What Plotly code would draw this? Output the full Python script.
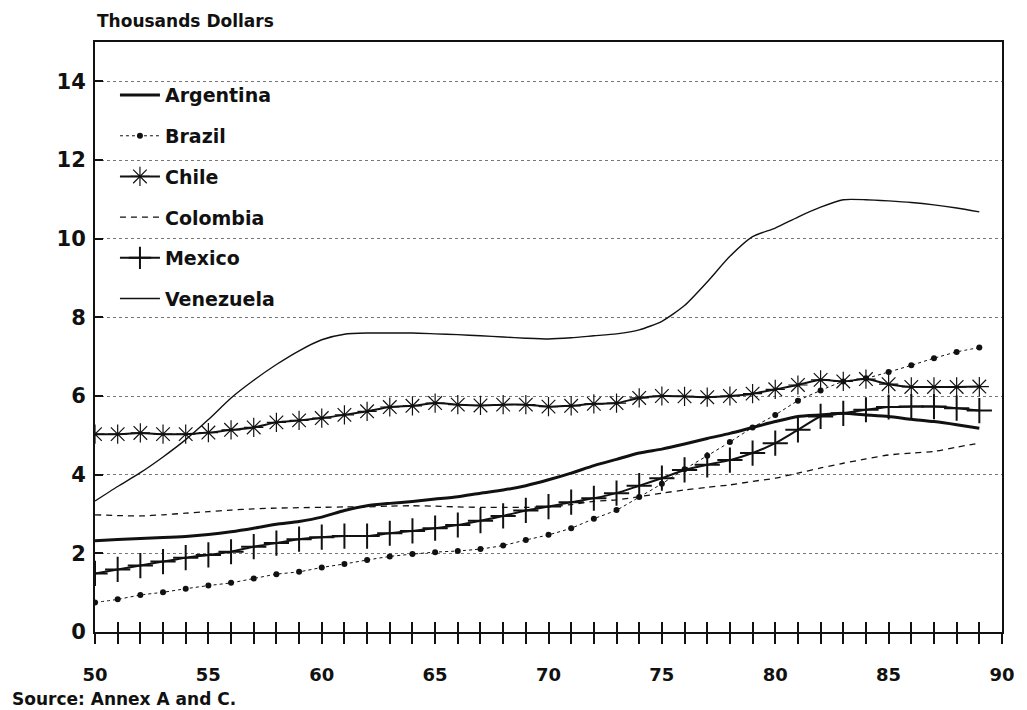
import plotly.graph_objects as go

years = list(range(50, 90))

argentina = [2.32, 2.35, 2.38, 2.40, 2.43, 2.48, 2.55, 2.64, 2.74, 2.81,
             2.92, 3.09, 3.21, 3.27, 3.32, 3.38, 3.44, 3.53, 3.61, 3.72,
             3.87, 4.04, 4.23, 4.39, 4.55, 4.65, 4.78, 4.92, 5.05, 5.20,
             5.35, 5.48, 5.52, 5.56, 5.52, 5.48, 5.41, 5.35, 5.27, 5.18]

brazil = [0.75, 0.83, 0.94, 1.01, 1.10, 1.18, 1.25, 1.36, 1.47, 1.53,
          1.64, 1.73, 1.83, 1.92, 1.98, 2.03, 2.06, 2.11, 2.20, 2.34,
          2.47, 2.64, 2.88, 3.10, 3.43, 3.77, 4.14, 4.48, 4.83, 5.20,
          5.52, 5.88, 6.14, 6.37, 6.45, 6.61, 6.78, 6.96, 7.12, 7.23]

chile = [5.03, 5.03, 5.06, 5.03, 5.03, 5.07, 5.14, 5.20, 5.33, 5.38,
         5.44, 5.52, 5.61, 5.72, 5.75, 5.82, 5.78, 5.76, 5.78, 5.78,
         5.73, 5.75, 5.80, 5.82, 5.95, 6.00, 5.99, 5.97, 6.00, 6.06,
         6.17, 6.28, 6.41, 6.37, 6.43, 6.30, 6.23, 6.23, 6.23, 6.24]

colombia = [2.98, 2.96, 2.95, 2.98, 3.02, 3.06, 3.10, 3.13, 3.15, 3.16,
            3.17, 3.18, 3.18, 3.20, 3.21, 3.20, 3.18, 3.17, 3.17, 3.17,
            3.18, 3.24, 3.32, 3.36, 3.44, 3.53, 3.61, 3.68, 3.74, 3.83,
            3.91, 4.04, 4.17, 4.29, 4.40, 4.50, 4.55, 4.59, 4.70, 4.80]

mexico = [1.49, 1.59, 1.69, 1.79, 1.89, 1.96, 2.04, 2.17, 2.26, 2.36,
          2.41, 2.44, 2.44, 2.51, 2.57, 2.64, 2.72, 2.83, 2.95, 3.09,
          3.19, 3.30, 3.40, 3.53, 3.72, 3.91, 4.12, 4.25, 4.37, 4.55,
          4.80, 5.14, 5.48, 5.56, 5.65, 5.72, 5.73, 5.73, 5.69, 5.63]

venezuela = [3.33, 3.70, 4.05, 4.45, 4.89, 5.40, 5.95, 6.40, 6.80, 7.15,
             7.43, 7.57, 7.60, 7.60, 7.60, 7.58, 7.56, 7.53, 7.50, 7.47,
             7.45, 7.48, 7.53, 7.58, 7.68, 7.90, 8.30, 8.90, 9.55, 10.05,
             10.27, 10.55, 10.80, 10.99, 10.99, 10.96, 10.92, 10.86, 10.78, 10.68]

x_tickvals = list(range(50, 91))
x_ticktext = [str(v) if v % 5 == 0 else "" for v in x_tickvals]
y_tickvals = [0, 2, 4, 6, 8, 10, 12, 14]

FONT = "DejaVu Sans"
BLACK = "#111111"

fig = go.Figure()

series = [
    ("Argentina", argentina, dict(color=BLACK, width=3), "lines", None),
    ("Brazil", brazil, dict(color=BLACK, width=1, dash="dot"), "lines+markers",
     dict(symbol="circle", size=6, color=BLACK)),
    ("Chile", chile, dict(color=BLACK, width=2), "lines+markers",
     dict(symbol="asterisk-open", size=16, color=BLACK, line=dict(color=BLACK, width=1.2))),
    ("Colombia", colombia, dict(color=BLACK, width=1.3, dash="6px,5px"), "lines", None),
    ("Mexico", mexico, dict(color=BLACK, width=2), "lines+markers",
     dict(symbol="cross-thin-open", size=18, color=BLACK, line=dict(color=BLACK, width=2))),
    ("Venezuela", venezuela, dict(color=BLACK, width=1.4), "lines", None),
]

for name, vals, line, mode, marker in series:
    kw = dict(x=years, y=vals, name=name, mode=mode,
              line=dict(shape="spline", smoothing=0.6, **line), legendgroup=name)
    if marker:
        kw["marker"] = marker
    fig.add_trace(go.Scatter(**kw))

# empty trace so that the overlaid axis (inner half of the year ticks) is drawn
fig.add_trace(go.Scatter(x=[None], y=[None], xaxis="x2", yaxis="y", showlegend=False,
                         hoverinfo="skip", mode="lines"))

fig.update_layout(
    width=1027, height=710,
    margin=dict(l=95, r=14, t=42, b=78),
    paper_bgcolor="white", plot_bgcolor="white",
    font=dict(family=FONT, color=BLACK),
    showlegend=True,
    legend=dict(x=0.022, y=0.942, xanchor="left", yanchor="top",
                bgcolor="rgba(0,0,0,0)", borderwidth=0,
                font=dict(family=FONT, size=19, weight="bold", color=BLACK),
                tracegroupgap=13, itemwidth=40),
    xaxis=dict(range=[50, 90], tickmode="array", tickvals=x_tickvals, ticktext=x_ticktext,
               ticks="outside", ticklen=10, tickwidth=2, tickcolor=BLACK,
               showline=True, linewidth=2, linecolor=BLACK, mirror=True,
               showgrid=False, zeroline=False, ticklabelstandoff=15,
               tickfont=dict(family=FONT, size=18, weight="bold", color=BLACK)),
    xaxis2=dict(range=[50, 90], overlaying="x", anchor="y", side="bottom",
                tickmode="array", tickvals=x_tickvals, ticktext=["" for _ in x_tickvals],
                ticks="inside", ticklen=10, tickwidth=2, tickcolor=BLACK,
                showline=False, showgrid=False, zeroline=False),
    yaxis=dict(range=[0, 15], tickmode="array", tickvals=y_tickvals,
               ticks="inside", ticklen=8, tickwidth=2, tickcolor=BLACK,
               showline=True, linewidth=2, linecolor=BLACK, mirror=True,
               showgrid=True, gridcolor="#777777", griddash="dot", gridwidth=1,
               zeroline=False, ticklabelstandoff=3,
               tickfont=dict(family=FONT, size=21, weight="bold", color=BLACK)),
    annotations=[
        dict(text="Thousands Dollars", xref="paper", yref="paper", x=0, y=1.036,
             xanchor="left", yanchor="middle", showarrow=False,
             font=dict(family=FONT, size=17, weight="bold", color=BLACK)),
        dict(text="Source: Annex A and C.", xref="paper", yref="paper", x=-0.094, y=-0.113,
             xanchor="left", yanchor="middle", showarrow=False,
             font=dict(family=FONT, size=17, weight="bold", color=BLACK)),
    ],
)

fig.write_html("out.html", config={"displayModeBar": False},
               post_script="document.body.style.margin='0';document.body.style.overflow='hidden';")
